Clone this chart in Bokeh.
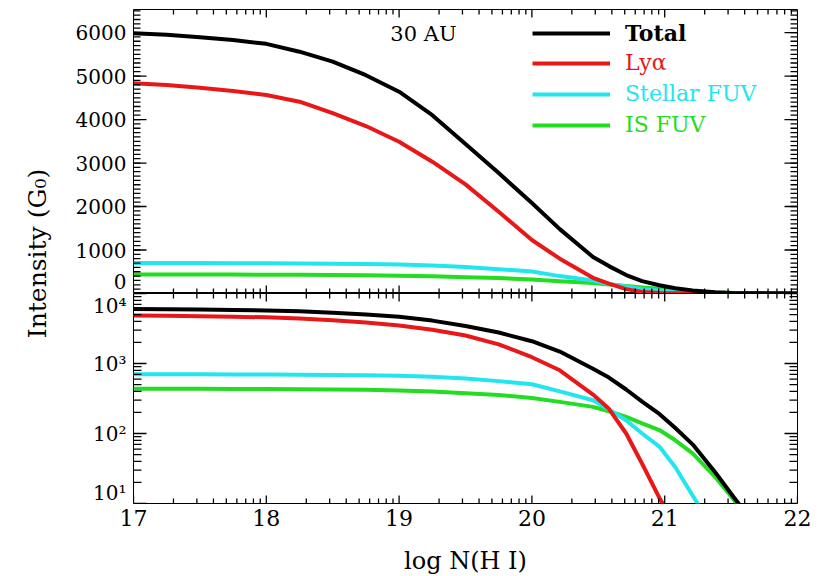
import math
from bokeh.plotting import figure
from bokeh.layouts import column, row
from bokeh.models import FixedTicker, LinearAxis, LogAxis, Range1d, Label, Legend, LegendItem
from bokeh.embed import file_html
from bokeh.resources import INLINE

# ---------------- data ----------------
log_nh = [17.0, 17.25, 17.5, 17.75, 18.0, 18.25, 18.5, 18.75, 19.0, 19.25, 19.5, 19.75,
          20.0, 20.21, 20.46, 20.58, 20.71, 20.83, 20.96, 21.08, 21.21, 21.38, 21.51,
          21.75, 22.0]
total = [5985, 5950, 5890, 5830, 5740, 5560, 5330, 5020, 4640, 4100, 3440, 2770,
         2080, 1480, 840, 630, 425, 285, 190, 120, 70, 28, 13, 3.3, 0.6]
lya = [4833, 4795, 4730, 4655, 4565, 4410, 4145, 3850, 3490, 3030, 2510, 1880,
       1230, 800, 360, 225, 100, 37, 12, 5, 2, 0.6, 0.25, 0.05, 0.01]
stellar_fuv = [700, 700, 700, 698, 695, 690, 685, 678, 668, 645, 612, 560,
               505, 400, 299, 220, 155, 100, 65, 33, 13, 4, 1.5, 0.3, 0.05]
is_fuv = [435, 435, 435, 434, 433, 430, 425, 420, 410, 398, 375, 355,
          322, 283, 240, 208, 173, 140, 112, 80, 52, 24, 12, 3, 0.5]

series_names = ["Total", "Lyα", "Stellar FUV", "IS FUV"]
series_colors = ["#000000", "#e81818", "#22e5ee", "#22dd22"]
series_values = [total, lya, stellar_fuv, is_fuv]

x_ticks = [17, 18, 19, 20, 21, 22]
lin_ticks = [0, 1000, 2000, 3000, 4000, 5000, 6000]
lin_tick_labels = ["0", "1000", "2000", "3000", "4000", "5000", "6000"]
log_ticks = [10, 100, 1000, 10000]
log_tick_labels = ["10¹", "10²", "10³", "10⁴"]
panel_label = "30 AU"
x_title = "log N(H I)"
y_title = "Intensity (G₀)"

# ---------------- styling ----------------
FONT = "DejaVu Serif"
X_RANGE = (17, 22)
TOP_RANGE = (0, 6530)
LOG_RANGE = (10, 10000)
FW, TOP_FH, BOT_FH = 664, 284, 210
x_minor = [k + math.log10(m) for k in range(17, 22) for m in range(2, 10)]
lin_minor = list(range(0, 6600, 100))
log_minor = [m * 10 ** e for e in range(1, 4) for m in range(2, 10)]

# pixel -> data conversions (for tick lengths and edge-label nudges)
x_per_px = (X_RANGE[1] - X_RANGE[0]) / FW
lin_per_px = (TOP_RANGE[1] - TOP_RANGE[0]) / TOP_FH
dec_per_px = math.log10(LOG_RANGE[1] / LOG_RANGE[0]) / BOT_FH
lin_label_pos = [lin_ticks[0] + 12 * lin_per_px] + lin_ticks[1:]
log_label_pos = [round(log_ticks[0] * 10 ** (10 * dec_per_px), 3)] + log_ticks[1:3] + \
                [round(log_ticks[3] / 10 ** (9 * dec_per_px), 1)]


def make_fig(y_range, y_type, frame_height, mb_top, mb_bottom):
    p = figure(frame_width=FW, frame_height=frame_height,
               x_range=Range1d(*X_RANGE), y_range=Range1d(*y_range), y_axis_type=y_type,
               x_axis_location=None, y_axis_location=None,
               toolbar_location=None, output_backend="svg",
               min_border_left=73, min_border_right=26,
               min_border_top=mb_top, min_border_bottom=mb_bottom)
    p.grid.visible = False
    p.outline_line_color = "black"
    p.outline_line_width = 1
    p.background_fill_color = "white"
    p.border_fill_color = "white"
    return p


def label_axis(cls, ticks, labels, size, standoff):
    ax = cls(ticker=FixedTicker(ticks=ticks, minor_ticks=[]),
             major_label_overrides=dict(zip(ticks, labels)))
    ax.major_tick_in = 0
    ax.major_tick_out = 0
    ax.minor_tick_in = 0
    ax.minor_tick_out = 0
    ax.axis_line_color = None
    ax.major_label_text_font = FONT
    ax.major_label_text_font_size = size
    ax.major_label_text_color = "black"
    ax.major_label_standoff = standoff
    return ax


def frame_ticks(p, y_lo, y_hi, y_major, y_minor, y_major_len, y_minor_len, ystep):
    """Inward IDL-style ticks on all four frame edges, drawn as thin filled quads.
    ystep(y, npx) moves a y value by npx pixels upward."""
    L, R, B, T = [], [], [], []
    half = 0.65  # half tick thickness, px
    for yv, n in ((y_major, y_major_len), (y_minor, y_minor_len)):
        for y in yv:
            lo, hi = ystep(y, -half), ystep(y, half)
            L.append(X_RANGE[0]); R.append(X_RANGE[0] + n * x_per_px); B.append(lo); T.append(hi)
            L.append(X_RANGE[1] - n * x_per_px); R.append(X_RANGE[1]); B.append(lo); T.append(hi)
    for xv, n in ((x_ticks, 8), (x_minor, 5)):
        for x in xv:
            l, r = x - half * x_per_px, x + half * x_per_px
            L.append(l); R.append(r); B.append(y_lo); T.append(ystep(y_lo, n))
            L.append(l); R.append(r); B.append(ystep(y_hi, -n)); T.append(y_hi)
    p.quad(left=L, right=R, bottom=B, top=T, fill_color="black", line_color=None)


# ---------------- top panel (linear) ----------------
top = make_fig(TOP_RANGE, "linear", TOP_FH, 9, 0)
top.add_layout(label_axis(LinearAxis, lin_label_pos, lin_tick_labels, "20px", 7), "left")

renderers = []
for vals, col in zip(series_values[::-1], series_colors[::-1]):
    r = top.line(log_nh, vals, line_color=col, line_width=4, line_join="round")
    renderers.append(r)
renderers = renderers[::-1]
frame_ticks(top, TOP_RANGE[0], TOP_RANGE[1], lin_ticks, lin_minor, 13, 7,
            lambda y, n: y + n * lin_per_px)

top.add_layout(Label(x=290, y=260, x_units="screen", y_units="screen", text=panel_label,
                     text_align="center", text_baseline="middle",
                     text_font=FONT, text_font_size="21px", text_color="black"))

legend_bottoms = [247, 218, 187, 156]
for name, col, r, vb in zip(series_names, series_colors, renderers, legend_bottoms):
    lg = Legend(items=[LegendItem(label=name, renderers=[r])], location=(399, vb),
                padding=0, margin=0, spacing=0, glyph_width=78, glyph_height=20,
                label_standoff=15, label_height=20, border_line_color=None,
                background_fill_alpha=0, label_text_font=FONT,
                label_text_font_size="22px", label_text_color=col,
                label_text_font_style="bold" if name == "Total" else "normal")
    top.add_layout(lg)

# ---------------- bottom panel (log) ----------------
bot = make_fig(LOG_RANGE, "log", BOT_FH, 0, 73)
bot.add_layout(label_axis(LogAxis, log_label_pos, log_tick_labels, "20px", 7), "left")
xax = label_axis(LinearAxis, x_ticks, [str(t) for t in x_ticks], "22px", 6)
xax.axis_label = x_title
xax.axis_label_text_font = FONT
xax.axis_label_text_font_size = "24px"
xax.axis_label_text_font_style = "normal"
xax.axis_label_text_color = "black"
xax.axis_label_standoff = 18
bot.add_layout(xax, "below")

for vals, col in zip(series_values[::-1], series_colors[::-1]):
    bot.line(log_nh, vals, line_color=col, line_width=4, line_join="round")
frame_ticks(bot, LOG_RANGE[0], LOG_RANGE[1], log_ticks, log_minor, 13, 8,
            lambda y, n: y * 10 ** (n * dec_per_px))

# ---------------- y title strip ----------------
lab = figure(width=60, height=576, x_range=Range1d(0, 1), y_range=Range1d(0, 1),
             x_axis_location=None, y_axis_location=None, toolbar_location=None,
             output_backend="svg", min_border=0)
lab.grid.visible = False
lab.outline_line_color = None
lab.add_layout(Label(x=37, y=323, x_units="screen", y_units="screen", text=y_title,
                     angle=math.pi / 2, text_align="center", text_baseline="middle",
                     text_font=FONT, text_font_size="25px", text_color="black"))

layout = row(lab, column(top, bot, spacing=0), spacing=0)
open("out.html", "w").write(file_html(layout, INLINE))
